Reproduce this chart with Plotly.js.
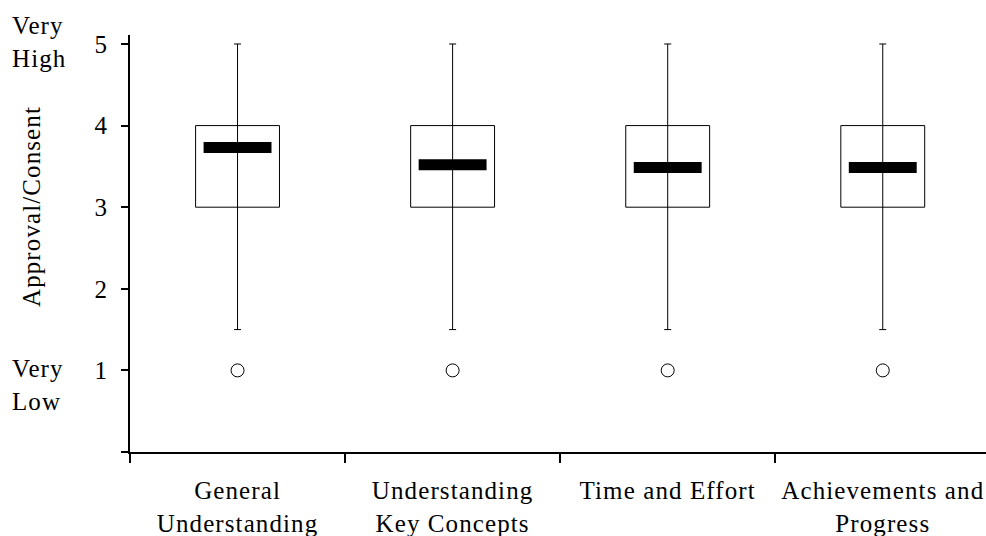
<!DOCTYPE html>
<html>
<head>
<meta charset="utf-8">
<script src="https://cdn.plot.ly/plotly-3.0.1.min.js"></script>
<style>
html,body{margin:0;padding:0;background:#fff;}
#chart{width:986px;height:536px;}
#chart svg text{letter-spacing:1.1px;}
</style>
</head>
<body>
<div id="chart"></div>
<script>
var categories = ["General<br>Understanding", "Understanding<br>Key Concepts", "Time and Effort", "Achievements and<br>Progress"];
var q1 = [3, 3, 3, 3];
var q3 = [4, 4, 4, 4];
var lowerWhisker = [1.5, 1.5, 1.5, 1.5];
var upperWhisker = [5, 5, 5, 5];
var centerValue = [3.73, 3.52, 3.485, 3.485];
var outliers = [1, 1, 1, 1];
var yTickVals = [0, 1, 2, 3, 4, 5];
var yTickText = ["", "1", "2", "3", "4", "5"];

var FONT = "Liberation Serif, Times New Roman, serif";
var traces = [];

// boxes from q1 to q3 (outlined, no fill)
traces.push({
  type: "bar",
  x: categories,
  base: q1,
  y: q3.map(function(v, i){ return v - q1[i]; }),
  width: 0.39,
  marker: {color: "rgba(0,0,0,0)", line: {color: "#000", width: 1}},
  hoverinfo: "skip",
  showlegend: false
});

// whiskers: vertical line through the box, small caps at both ends
traces.push({
  type: "scatter",
  mode: "markers",
  x: categories,
  y: lowerWhisker,
  marker: {size: 1, color: "#000", opacity: 0},
  error_y: {
    type: "data", symmetric: false,
    array: upperWhisker.map(function(u, i){ return u - lowerWhisker[i]; }),
    arrayminus: lowerWhisker.map(function(){ return 0; }),
    width: 3.5, thickness: 1, color: "#000"
  },
  hoverinfo: "skip",
  showlegend: false
});

// thick center bars
traces.push({
  type: "scatter",
  mode: "markers",
  x: categories,
  y: centerValue,
  marker: {symbol: "line-ew", size: 48.5, color: "#000", line: {color: "#000", width: 11}},
  hoverinfo: "skip",
  showlegend: false
});

// outliers
traces.push({
  type: "scatter",
  mode: "markers",
  x: categories,
  y: outliers,
  marker: {symbol: "circle-open", size: 13, color: "#000", line: {color: "#000", width: 1}},
  hoverinfo: "skip",
  showlegend: false
});

var layout = {
  width: 986, height: 536,
  margin: {l: 130, r: 0, t: 35, b: 84},
  paper_bgcolor: "#fff", plot_bgcolor: "#fff",
  font: {family: FONT, size: 25, color: "#000"},
  showlegend: false,
  barmode: "overlay",
  xaxis: {
    type: "category",
    categoryorder: "array", categoryarray: categories,
    range: [-0.5, 3.48],
    tickson: "boundaries",
    ticks: "outside", ticklen: 9, tickwidth: 2, tickcolor: "#000",
    showline: true, linecolor: "#000", linewidth: 2,
    showgrid: false, zeroline: false,
    tickfont: {family: FONT, size: 25, color: "#000"},
    ticklabelstandoff: 15,
    automargin: false
  },
  yaxis: {
    range: [0, 5.11],
    tickvals: yTickVals, ticktext: yTickText,
    ticks: "outside", ticklen: 7, tickwidth: 2, tickcolor: "#000",
    showline: true, linecolor: "#000", linewidth: 2,
    showgrid: false, zeroline: false,
    tickfont: {family: FONT, size: 25, color: "#000"},
    ticklabelstandoff: 8,
    automargin: false
  },
  annotations: [
    {xref: "paper", yref: "y", x: (31 - 130) / 856, y: 3.0, xanchor: "center", yanchor: "middle",
     textangle: -90, text: "Approval/Consent", showarrow: false,
     font: {family: FONT, size: 25, color: "#000"}},
    {xref: "paper", yref: "y", x: (10 - 130) / 856, y: 5.03, xanchor: "left", yanchor: "middle", align: "left",
     text: "Very<br>High", showarrow: false, font: {family: FONT, size: 25, color: "#000"}},
    {xref: "paper", yref: "y", x: (10 - 130) / 856, y: 0.82, xanchor: "left", yanchor: "middle", align: "left",
     text: "Very<br>Low", showarrow: false, font: {family: FONT, size: 25, color: "#000"}}
  ]
};

Plotly.newPlot("chart", traces, layout, {displayModeBar: false, staticPlot: true});
</script>
</body>
</html>
